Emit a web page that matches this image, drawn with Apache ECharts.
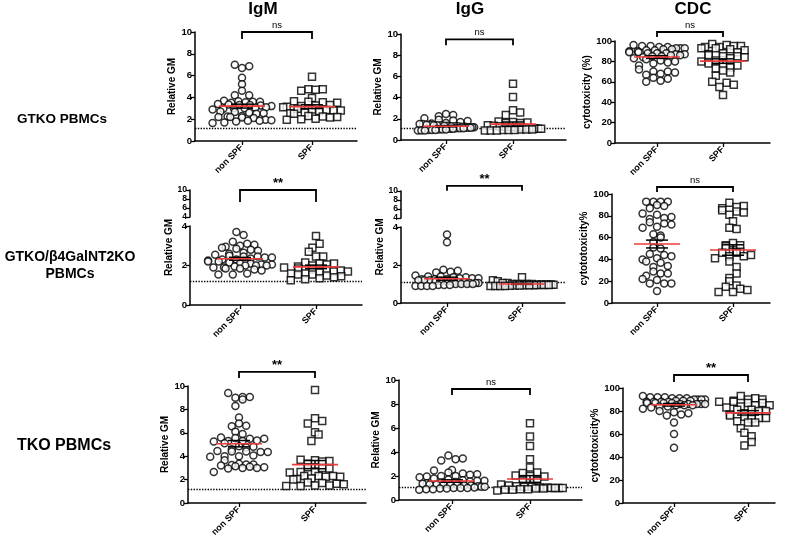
<!DOCTYPE html>
<html><head><meta charset="utf-8">
<script src="https://cdn.jsdelivr.net/npm/echarts@6/dist/echarts.min.js"></script>
<style>html,body{margin:0;padding:0;background:#fff}#c{width:800px;height:541px}</style>
</head><body><div id="c"></div>
<script>
// ---------- DATA ----------
const categories = ['non SPF', 'SPF'];
const columnTitles = ['IgM', 'IgG', 'CDC'];
const rowTitles = ['GTKO PBMCs', 'GTKO/β4GalNT2KO\nPBMCs', 'TKO PBMCs'];
const yNames = ['Relative GM', 'Relative GM', 'cytotoxicity (%)', 'Relative GM', 'Relative GM', 'cytototoxicity%', 'Relative GM', 'Relative GM', 'cytototoxicity%'];
const gmTicks = [0, 2, 4, 6, 8, 10];
const cdcTicks = [0, 20, 40, 60, 80, 100];
const brokenLowTicks = [0, 2, 4];
const brokenHighTicks = [4, 6, 8, 10];
const refIgM = 1.2;
const refIgG = 1.1;
const sigLabels = ['ns', 'ns', 'ns', '**', '**', 'ns', '**', 'ns', '**'];

// GTKO PBMCs
const gtko_IgM_non = [7.0,6.85,6.7,5.8,5.2,4.6,4.2,4.2,3.7,3.65,3.6,3.6,3.55,3.5,3.4,3.35,3.3,3.3,3.25,3.2,3.1,3.05,3.0,3.0,2.95,2.9,2.7,2.65,2.6,2.55,2.5,2.3,2.25,2.2,2.2,2.15,2.1,1.95,1.9,1.85,1.85,1.8,1.7,1.65];
const gtko_IgM_spf = [5.9,4.75,4.75,4.7,4.6,3.95,3.65,3.6,3.55,3.5,3.3,3.25,3.2,3.15,3.1,2.95,2.9,2.85,2.8,2.8,2.75,2.6,2.55,2.5,2.3,2.25,2.2,2.15,2.05,2.0,1.95];
const gtko_IgM_mean = [3.2, 3.15];
const gtko_IgM_sem = [0.18, 0.17];
const gtko_IgG_non = [2.45,2.35,2.25,2.05,1.9,1.85,1.8,1.7,1.6,1.55,1.5,1.5,1.45,1.45,1.4,1.4,1.4,1.35,1.35,1.3,1.3,1.3,1.25,1.25,1.2,1.2,1.2,1.15,1.15,1.1,1.1,1.1,1.05,1.05,1.0,1.0,1.0,0.95,0.95,0.95,0.9,0.9,0.9];
const gtko_IgG_spf = [5.3,4.05,2.8,2.6,2.35,1.75,1.7,1.65,1.6,1.6,1.4,1.35,1.3,1.25,1.2,1.2,1.15,1.1,1.1,1.05,1.05,1.0,1.0,1.0,0.95,0.95,0.95,0.9,0.9,0.9];
const gtko_IgG_mean = [1.3, 1.5];
const gtko_IgG_sem = [0.06, 0.2];
const gtko_CDC_non = [96,95,95,94,94,93,93,93,92,92,91,91,90,90,89,89,88,88,88,87,87,86,86,85,85,84,83,82,81,80,79,78,76,72,70,70,69,68,67,64,63,61,60];
const gtko_CDC_spf = [97,96,95,95,94,94,93,93,92,91,89,88,87,86,85,85,84,83,81,80,78,77,76,74,73,71,69,66,60,59,57,55,47];
const gtko_CDC_mean = [84.3, 80.3];
const gtko_CDC_sem = [1.3, 2.2];

// GTKO/β4GalNT2KO PBMCs
const dko_IgM_non = [3.7,3.55,3.2,3.1,3.05,3.0,2.95,2.9,2.85,2.8,2.75,2.65,2.6,2.55,2.5,2.45,2.45,2.4,2.4,2.35,2.3,2.3,2.25,2.2,2.2,2.15,2.1,2.1,2.05,2.05,2.0,2.0,2.0,1.95,1.9,1.9,1.85,1.85,1.8,1.75,1.6,1.55,1.55];
const dko_IgM_spf = [3.5,3.1,2.9,2.7,2.45,2.45,2.15,2.1,2.1,2.05,2.0,1.95,1.9,1.85,1.8,1.8,1.75,1.7,1.7,1.65,1.6,1.6,1.55,1.55,1.5,1.45,1.4,1.35,1.3,1.25];
const dko_IgM_mean = [2.34, 1.93];
const dko_IgM_sem = [0.07, 0.09];
const dko_IgG_non = [3.6,3.2,1.75,1.7,1.65,1.6,1.45,1.4,1.4,1.35,1.35,1.3,1.3,1.3,1.25,1.25,1.25,1.2,1.2,1.2,1.15,1.15,1.15,1.1,1.1,1.1,1.05,1.05,1.05,1.0,1.0,1.0,1.0,0.95,0.95,0.95,0.9,0.9,0.9,0.9];
const dko_IgG_spf = [1.35,1.2,1.15,1.05,1.05,1.0,1.0,1.0,1.0,1.0,0.98,0.98,0.97,0.97,0.96,0.95,0.95,0.95,0.94,0.93,0.93,0.92,0.92,0.91,0.9,0.9,0.9,0.9];
const dko_IgG_mean = [1.28, 1.0];
const dko_IgG_sem = [0.08, 0.02];
const dko_CDC_non = [93,93,93,93,90,89,87,82,81,79,78,77,74,73,72,70,69,63,62,60,56,51,50,45,44,43,41,40,38,37,34,33,29,27,27,25,22,21,18,18,18,11];
const dko_CDC_spf = [92,89,88,87,85,84,83,81,75,69,68,55,53,53,52,47,47,46,46,44,43,43,41,38,33,27,23,20,16,15,13,12,10,10];
const dko_CDC_mean = [54.1, 48.6];
const dko_CDC_sem = [3.6, 4.8];

// TKO PBMCs
const tko_IgM_non = [9.4,9.05,9.05,9.0,8.85,8.3,7.3,6.8,6.6,6.55,6.1,5.9,5.6,5.55,5.5,5.5,5.35,5.3,5.3,5.25,5.1,4.85,4.8,4.75,4.6,4.45,4.4,4.4,4.35,4.35,4.05,4.0,4.0,3.95,3.65,3.35,3.3,3.3,3.25,3.2,3.15,3.1,3.05,3.0,3.0,2.95,2.65];
const tko_IgM_spf = [9.65,7.25,7.0,6.8,6.05,5.85,5.3,3.7,3.65,3.6,3.55,3.35,3.05,3.0,2.95,2.7,2.65,2.6,2.3,2.3,2.3,2.25,2.25,2.1,2.05,2.0,1.75,1.7,1.65,1.6,1.5,1.5,1.45,1.45];
const tko_IgM_mean = [5.07, 3.28];
const tko_IgM_sem = [0.27, 0.35];
const tko_IgG_non = [3.7,3.45,3.4,3.3,2.5,2.45,2.3,2.2,2.15,2.1,2.0,2.0,1.95,1.9,1.8,1.7,1.65,1.6,1.6,1.55,1.5,1.45,1.4,1.35,1.3,1.3,1.3,1.25,1.25,1.2,1.2,1.15,1.1,1.1,1.05,1.0,1.0,1.0,0.95,0.95,0.9,0.9,0.85];
const tko_IgG_spf = [6.4,5.3,4.5,3.4,2.7,2.3,2.25,2.05,2.0,1.95,1.6,1.55,1.3,1.2,1.15,1.1,1.1,1.05,1.05,1.0,1.0,1.0,1.0,0.95,0.95,0.9,0.9,0.85,0.85,0.8];
const tko_IgG_mean = [1.58, 1.75];
const tko_IgG_sem = [0.1, 0.28];
const tko_CDC_non = [93,92,92,92,91,91,91,90,90,90,90,89,89,89,88,88,88,88,87,87,87,87,86,86,86,86,86,85,85,85,84,84,83,82,80,79,78,77,76,70,60,48];
const tko_CDC_spf = [93,91,90,90,89,88,88,87,87,86,85,85,84,83,81,81,80,80,78,77,76,75,74,74,73,71,70,70,65,61,58,53,50];
const tko_CDC_mean = [85.4, 78.4];
const tko_CDC_sem = [1.1, 1.9];

// ---------- LAYOUT ----------
const FONT = '"Liberation Sans", Arial, sans-serif';
const RED = '#ee3b3b';
const D = 7.2;

const panels = [
  {non: gtko_IgM_non, spf: gtko_IgM_spf, mean: gtko_IgM_mean, sem: gtko_IgM_sem, ticks: gmTicks, ref: refIgM,
   x0:195, xEnd:357, top:32, bottom:141, c0:242, c1:312, brY:10, brLeg:7, nameGap:16},
  {non: gtko_IgG_non, spf: gtko_IgG_spf, mean: gtko_IgG_mean, sem: gtko_IgG_sem, ticks: gmTicks, ref: refIgG,
   x0:401, xEnd:566, top:34, bottom:140, c0:446, c1:513, brY:9.5, brLeg:6, nameGap:14},
  {non: gtko_CDC_non, spf: gtko_CDC_spf, mean: gtko_CDC_mean, sem: gtko_CDC_sem, ticks: cdcTicks, ref: null,
   x0:615, xEnd:770, top:41, bottom:143, c0:657, c1:723, brY:108.8, brLeg:5, nameGap:19},
  {non: dko_IgM_non, spf: dko_IgM_spf, mean: dko_IgM_mean, sem: dko_IgM_sem, ticks: brokenLowTicks, ref: refIgM,
   x0:190, xEnd:362, top:226, bottom:305, c0:240, c1:316, upper:{top:190, bottom:217, ticks: brokenHighTicks}, brY:10, brLeg:12, nameGap:16},
  {non: dko_IgG_non, spf: dko_IgG_spf, mean: dko_IgG_mean, sem: dko_IgG_sem, ticks: brokenLowTicks, ref: refIgG,
   x0:401, xEnd:565, top:227, bottom:303, c0:447, c1:522, upper:{top:191, bottom:218, ticks: brokenHighTicks}, brY:11.15, brLeg:5, nameGap:16},
  {non: dko_CDC_non, spf: dko_CDC_spf, mean: dko_CDC_mean, sem: dko_CDC_sem, ticks: cdcTicks, ref: null,
   x0:612, xEnd:770, top:194, bottom:303, c0:657, c1:733, brY:106.4, brLeg:5, nameGap:22},
  {non: tko_IgM_non, spf: tko_IgM_spf, mean: tko_IgM_mean, sem: tko_IgM_sem, ticks: gmTicks, ref: refIgM,
   x0:188, xEnd:366, top:386, bottom:503, c0:239, c1:315, brY:11.2, brLeg:6, nameGap:15},
  {non: tko_IgG_non, spf: tko_IgG_spf, mean: tko_IgG_mean, sem: tko_IgG_sem, ticks: gmTicks, ref: refIgG,
   x0:399, xEnd:582, top:380, bottom:500, c0:452, c1:530, brY:9.25, brLeg:6, nameGap:16},
  {non: tko_CDC_non, spf: tko_CDC_spf, mean: tko_CDC_mean, sem: tko_CDC_sem, ticks: cdcTicks, ref: null,
   x0:623, xEnd:775, top:388, bottom:503, c0:674, c1:748, brY:111.3, brLeg:7, nameGap:18}
];

// Prism-like row scatter: close values share a row, spread horizontally (compressed if crowded);
// values are interleaved low/high across each row so rows stay flat.
function rowSwarm(vals, kY, d, maxHalf) {
  const idx = vals.map((v, i) => i).sort((a, b) => vals[a] - vals[b]);
  const rows = [];
  let cur = [], startY = 0;
  idx.forEach(i => {
    const y = vals[i] * kY;
    if (cur.length && y - startY < d * 0.9) cur.push(i);
    else { if (cur.length) rows.push(cur); cur = [i]; startY = y; }
  });
  if (cur.length) rows.push(cur);
  const out = new Array(vals.length).fill(0);
  rows.forEach((r, ri) => {
    const n = r.length;
    const s = n > 1 ? Math.min(d, 2 * maxHalf / (n - 1)) : 0;
    const inter = [];
    let lo = 0, hi = n - 1, t = ri % 2;
    while (lo <= hi) { inter.push(t ? r[hi--] : r[lo++]); t = 1 - t; }
    inter.forEach((i, k) => { out[i] = (k - (n - 1) / 2) * s; });
  });
  return out;
}

const axisLineStyle = {color: '#000', width: 1.5};
const labelStyle = {fontSize: 9.5, fontWeight: 'bold', color: '#000', fontFamily: FONT};

const option = {
  animation: false,
  backgroundColor: '#fff',
  title: [],
  grid: [], xAxis: [], yAxis: [], series: []
};

const colCenters = [263, 470, 693];
columnTitles.forEach((t, i) => option.title.push({
  text: t, left: colCenters[i], top: 1, textAlign: 'center', padding: 0,
  textStyle: {fontSize: 17, fontWeight: 'bold', color: '#000', fontFamily: FONT}
}));
const rowPos = [{x: 62, y: 111, s: 13.5}, {x: 70, y: 249, s: 14}, {x: 64, y: 437, s: 16}];
rowTitles.forEach((t, i) => option.title.push({
  text: t, left: rowPos[i].x, top: rowPos[i].y, textAlign: 'center', padding: 0,
  textStyle: {fontSize: rowPos[i].s, fontWeight: 'bold', color: '#000', fontFamily: FONT, lineHeight: 17, align: 'center'}
}));

function bracketSeries(xi, yi, yv, leg, label) {
  const bold = label !== 'ns';
  return {
    type: 'custom', xAxisIndex: xi, yAxisIndex: yi, clip: false, silent: true, z: 5,
    data: [[0, yv]],
    renderItem: (params, api) => {
      const a = api.coord([0, api.value(1)]);
      const b = api.coord([1, api.value(1)]);
      const st = {stroke: '#000', lineWidth: 1.8, fill: null};
      return {type: 'group', children: [
        {type: 'polyline', shape: {points: [[a[0], a[1] + leg], [a[0], a[1]], [b[0], b[1]], [b[0], b[1] + leg]]}, style: st},
        {type: 'text', style: {text: label, x: (a[0] + b[0]) / 2, y: a[1] - (bold ? 0 : 2), textAlign: 'center', textVerticalAlign: 'bottom',
          fontSize: bold ? 13 : 9.5, fontWeight: bold ? 'bold' : 'normal', fill: '#000', fontFamily: FONT}}
      ]};
    }
  };
}

panels.forEach((p, idx) => {
  const pxX = p.c1 - p.c0;
  const xmin = -(p.c0 - p.x0) / pxX;
  const xmax = 1 + (p.xEnd - p.c1) / pxX;
  const ymin = p.ticks[0], ymax = p.ticks[p.ticks.length - 1];
  const gi = option.grid.length;
  option.grid.push({left: p.x0, top: p.top, width: p.xEnd - p.x0, height: p.bottom - p.top});
  option.xAxis.push({
    gridIndex: gi, type: 'value', min: xmin, max: xmax,
    axisLine: {show: true, onZero: false, lineStyle: axisLineStyle},
    axisTick: {show: true, customValues: [0, 1], length: 4, lineStyle: {color: '#000', width: 1.3}},
    axisLabel: {customValues: [0, 1], formatter: v => categories[Math.round(v)], rotate: 45, margin: 5,
      fontSize: 9, fontWeight: 'bold', color: '#000', fontFamily: FONT},
    splitLine: {show: false}
  });
  const yAx = {
    gridIndex: gi, type: 'value', min: ymin, max: ymax, interval: p.ticks[1] - p.ticks[0],
    axisLine: {show: true, onZero: false, lineStyle: axisLineStyle},
    axisTick: {show: true, length: 4, lineStyle: {color: '#000', width: 1.3}},
    axisLabel: Object.assign({margin: 3, showMinLabel: true, showMaxLabel: true}, labelStyle),
    splitLine: {show: false},
    name: yNames[idx], nameLocation: 'middle', nameGap: p.nameGap,
    nameTextStyle: {fontSize: 10, fontWeight: 'bold', color: '#000', fontFamily: FONT}
  };
  if (p.upper) yAx.nameTextStyle.padding = [0, 0, 0, 36];
  option.yAxis.push(yAx);

  const kY = (p.bottom - p.top) / (ymax - ymin);
  const maxHalf = pxX * 0.42;
  const offNon = rowSwarm(p.non, kY, D, maxHalf);
  const offSpf = rowSwarm(p.spf, kY, D, maxHalf);
  const pointStyle = {color: '#fff', borderColor: '#000', borderWidth: 1.5};
  const nonSeries = {
    type: 'scatter', xAxisIndex: gi, yAxisIndex: gi, symbol: 'circle', symbolSize: 7, silent: true, z: 3,
    itemStyle: pointStyle,
    data: p.non.map((v, i) => [0 + offNon[i] / pxX, v])
  };
  if (p.ref !== null) {
    nonSeries.markLine = {silent: true, symbol: 'none', label: {show: false}, z: 1,
      lineStyle: {type: 'dotted', color: '#000', width: 1.4}, data: [{yAxis: p.ref}]};
  }
  option.series.push(nonSeries);
  option.series.push({
    type: 'scatter', xAxisIndex: gi, yAxisIndex: gi, symbol: 'rect', symbolSize: 7, silent: true, z: 3,
    itemStyle: pointStyle,
    data: p.spf.map((v, i) => [1 + offSpf[i] / pxX, v])
  });
  option.series.push({
    type: 'custom', xAxisIndex: gi, yAxisIndex: gi, clip: false, silent: true, z: 6,
    data: p.mean.map((m, i) => [i, m, p.sem[i]]),
    renderItem: (params, api) => {
      const c = api.value(0), m = api.value(1), s = api.value(2);
      const pm = api.coord([c, m]), ph = api.coord([c, m + s]), pl = api.coord([c, m - s]);
      const blk = {stroke: '#000', lineWidth: 1.5};
      return {type: 'group', children: [
        {type: 'line', shape: {x1: pm[0], y1: ph[1], x2: pm[0], y2: pl[1]}, style: blk},
        {type: 'line', shape: {x1: pm[0] - 11, y1: ph[1], x2: pm[0] + 11, y2: ph[1]}, style: blk},
        {type: 'line', shape: {x1: pm[0] - 11, y1: pl[1], x2: pm[0] + 11, y2: pl[1]}, style: blk},
        {type: 'line', shape: {x1: pm[0] - 23, y1: pm[1], x2: pm[0] + 23, y2: pm[1]}, style: {stroke: RED, lineWidth: 1.6}}
      ]};
    }
  });

  if (p.upper) {
    const ui = option.grid.length;
    const ut = p.upper.ticks;
    option.grid.push({left: p.x0, top: p.upper.top, width: p.xEnd - p.x0, height: p.upper.bottom - p.upper.top});
    option.xAxis.push({gridIndex: ui, type: 'value', min: xmin, max: xmax, show: false});
    option.yAxis.push({
      gridIndex: ui, type: 'value', min: ut[0], max: ut[ut.length - 1], interval: ut[1] - ut[0],
      axisLine: {show: true, onZero: false, lineStyle: axisLineStyle},
      axisTick: {show: true, length: 4, lineStyle: {color: '#000', width: 1.3}},
      axisLabel: {margin: 3, fontSize: 8.5, fontWeight: 'bold', color: '#000', fontFamily: FONT, lineHeight: 7,
        showMinLabel: true, showMaxLabel: true, hideOverlap: false},
      splitLine: {show: false}
    });
    option.series.push(bracketSeries(ui, ui, p.brY, p.brLeg, sigLabels[idx]));
  } else {
    option.series.push(bracketSeries(gi, gi, p.brY, p.brLeg, sigLabels[idx]));
  }
});

const chart = echarts.init(document.getElementById('c'), null, {renderer: 'canvas'});
chart.setOption(option);
</script></body></html>
